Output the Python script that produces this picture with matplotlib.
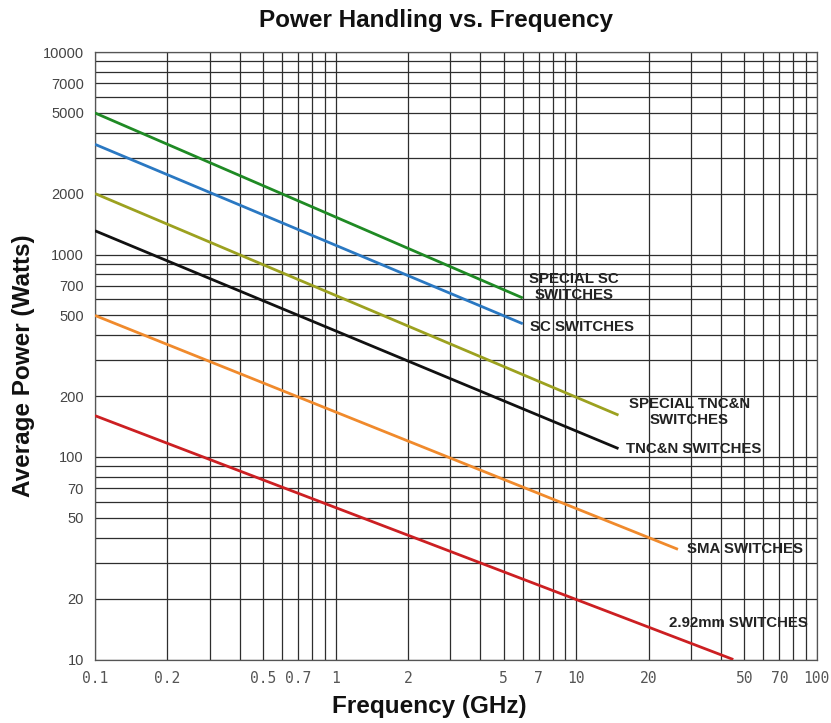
import matplotlib
matplotlib.use("Agg")
import matplotlib.pyplot as plt
from matplotlib.ticker import FixedLocator, NullFormatter

# -----------------------------
# Data
# -----------------------------
freq_special_sc = [0.1, 6]
power_special_sc = [5000, 610]

freq_sc = [0.1, 6]
power_sc = [3500, 455]

freq_special_tnc = [0.1, 15]
power_special_tnc = [2000, 161]

freq_tnc = [0.1, 15]
power_tnc = [1310, 110]

freq_sma = [0.1, 26.5]
power_sma = [500, 35]

freq_292 = [0.1, 45]
power_292 = [160, 10]

x_ticks = [0.1, 0.2, 0.5, 0.7, 1, 2, 5, 7, 10, 20, 50, 70, 100]
x_tick_labels = ["0.1", "0.2", "0.5", "0.7", "1", "2", "5", "7", "10", "20", "50", "70", "100"]
y_ticks = [10, 20, 50, 70, 100, 200, 500, 700, 1000, 2000, 5000, 7000, 10000]
y_tick_labels = ["10", "20", "50", "70", "100", "200", "500", "700", "1000", "2000", "5000", "7000", "10000"]

# (freq, power, colour, label, offset in points, ha)
series = [
    (freq_special_sc, power_special_sc, "#1f8a24", "SPECIAL SC\nSWITCHES", (37, 8), "center"),
    (freq_sc, power_sc, "#2a78c2", "SC SWITCHES", (5.5, -2), "left"),
    (freq_special_tnc, power_special_tnc, "#9ca11f", "SPECIAL TNC&N\nSWITCHES", (51, 2), "center"),
    (freq_tnc, power_tnc, "#111111", "TNC&N SWITCHES", (5.5, 0), "left"),
    (freq_sma, power_sma, "#f08a2c", "SMA SWITCHES", (6.3, 0), "left"),
    (freq_292, power_292, "#cc1f22", "2.92mm SWITCHES", (-46, 26), "left"),
]

plt.rcParams["font.family"] = ["Liberation Sans", "DejaVu Sans"]

fig = plt.figure(figsize=(8.31, 7.23), dpi=100)
ax = fig.add_axes([95 / 831, 1 - 659.5 / 723, (816.7 - 95) / 831, (659.5 - 52) / 723])

ax.set_xscale("log")
ax.set_yscale("log")
ax.set_xlim(0.1, 100)
ax.set_ylim(10, 10000)

# grid on every 1..9 multiple
minor_x = [m * 10.0 ** e for e in range(-1, 2) for m in range(1, 10)] + [100]
minor_y = [m * 10.0 ** e for e in range(1, 4) for m in range(1, 10)] + [10000]
ax.xaxis.set_minor_locator(FixedLocator(minor_x))
ax.yaxis.set_minor_locator(FixedLocator(minor_y))
ax.xaxis.set_minor_formatter(NullFormatter())
ax.yaxis.set_minor_formatter(NullFormatter())
ax.set_xticks(x_ticks)
ax.set_xticklabels(x_tick_labels, family="DejaVu Sans Mono", fontsize=10.5, color="#555555")
ax.set_yticks(y_ticks)
ax.set_yticklabels(y_tick_labels, fontsize=10.5, color="#444444")
ax.tick_params(which="both", length=0)
ax.tick_params(axis="x", pad=8)
ax.tick_params(axis="y", pad=8)
ax.grid(True, which="both", color="#2e2e2e", linewidth=0.9)
for s in ax.spines.values():
    s.set_color("#555555")
    s.set_linewidth(0.9)

for f, p, c, label, off, ha in series:
    ax.plot(f, p, color=c, linewidth=2.0, solid_capstyle="butt", zorder=3)
    ax.annotate(label, xy=(f[-1], p[-1]), xytext=off, textcoords="offset points",
                ha=ha, va="center", multialignment="center",
                fontsize=10.8, fontweight="bold", color="#222222", zorder=4)

fig.text(436 / 831, 1 - 20 / 723, "Power Handling vs. Frequency",
         ha="center", va="center", fontsize=17.5, fontweight="bold", color="#111111")
fig.text(429 / 831, 1 - 707 / 723, "Frequency (GHz)",
         ha="center", va="center", fontsize=17.5, fontweight="bold", color="#111111")
fig.text(24 / 831, 1 - 366 / 723, "Average Power (Watts)", rotation=90,
         ha="center", va="center", fontsize=17.5, fontweight="bold", color="#111111")

fig.savefig("out.png", dpi=100)
